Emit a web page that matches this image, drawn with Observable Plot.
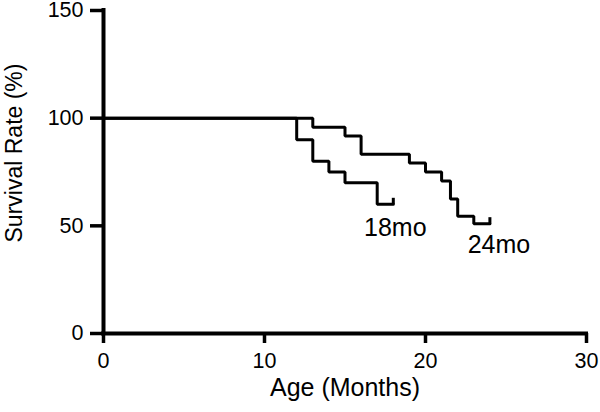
<!DOCTYPE html>
<html>
<head>
<meta charset="utf-8">
<script src="https://cdn.jsdelivr.net/npm/d3@7"></script>
<script src="https://cdn.jsdelivr.net/npm/@observablehq/plot@0.6"></script>
<style>
  html, body { margin: 0; padding: 0; background: #fff; }
  #chart svg { display: block; overflow: visible; }
</style>
</head>
<body>
<div id="chart"></div>
<script>
// Kaplan–Meier style survival steps (months, survival %)
const months18 = [0, 12, 13, 14, 15, 17, 18];
const surv18   = [100, 90, 80, 75, 70, 60, 60];
const months24 = [0, 13, 15, 16, 19, 20, 21, 21.55, 22, 23, 24];
const surv24   = [100, 95.8, 91.7, 83.3, 79.2, 75, 70.8, 62.5, 54.5, 51, 51];
const seriesNames = ["18mo", "24mo"];
const xTicks = [0, 10, 20, 30];
const yTicks = [0, 50, 100, 150];
const xTitle = "Age (Months)";
const yTitle = "Survival Rate (%)";

const rows = [
  ...months18.map((t, i) => ({series: seriesNames[0], t, s: surv18[i]})),
  ...months24.map((t, i) => ({series: seriesNames[1], t, s: surv24[i]}))
];
const ends = [
  {series: seriesNames[0], t: months18.at(-1), s: surv18.at(-1)},
  {series: seriesNames[1], t: months24.at(-1), s: surv24.at(-1)}
];

// censor tick: short vertical stroke going up
const tickUp = { draw(ctx) { ctx.moveTo(0, 0); ctx.lineTo(0, -6.5); } };

const font = "'Liberation Sans', Arial, Helvetica, sans-serif";

const chart = Plot.plot({
  width: 600,
  height: 412,
  marginLeft: 103,
  marginRight: 14,
  marginTop: 10,
  marginBottom: 79,
  style: {fontFamily: font, fontSize: "22px", color: "#000", background: "#fff", overflow: "visible"},
  x: {domain: [0, 30]},
  y: {domain: [0, 150]},
  marks: [
    Plot.axisY({ticks: yTicks, tickSize: 13, tickPadding: 7, strokeWidth: 3.5, label: null, fontSize: 21.5}),
    Plot.axisX({ticks: xTicks, tickSize: 10, tickPadding: 9, strokeWidth: 3.5, label: null, fontSize: 21.5}),
    Plot.ruleX([0], {x: d => d, y1: yTicks[0], y2: yTicks.at(-1), strokeWidth: 4, strokeLinecap: "square"}),
    Plot.ruleY([0], {y: d => d, x1: xTicks[0], x2: xTicks.at(-1), strokeWidth: 4, strokeLinecap: "square"}),
    Plot.line(rows, {x: "t", y: "s", z: "series", curve: "step-after", stroke: "#000", strokeWidth: 3, strokeLinejoin: "miter"}),
    Plot.dot(ends, {x: "t", y: "s", symbol: tickUp, stroke: "#000", fill: "none", strokeWidth: 3, r: 4}),
    Plot.text(ends.slice(0, 1), {x: "t", y: "s", text: "series", dx: 2, dy: 24, fontSize: 25, textAnchor: "middle", fill: "#000"}),
    Plot.text(ends.slice(1), {x: "t", y: "s", text: "series", dx: 9, dy: 21, fontSize: 25, textAnchor: "middle", fill: "#000"}),
    Plot.text([xTitle], {frameAnchor: "bottom", text: d => d, dy: 62, fontSize: 25, textAnchor: "middle", fill: "#000"}),
    Plot.text([yTitle], {frameAnchor: "left", text: d => d, rotate: -90, dx: -89, dy: -19, fontSize: 23, textAnchor: "middle", fill: "#000"})
  ]
});
document.getElementById("chart").append(chart);
</script>
</body>
</html>
